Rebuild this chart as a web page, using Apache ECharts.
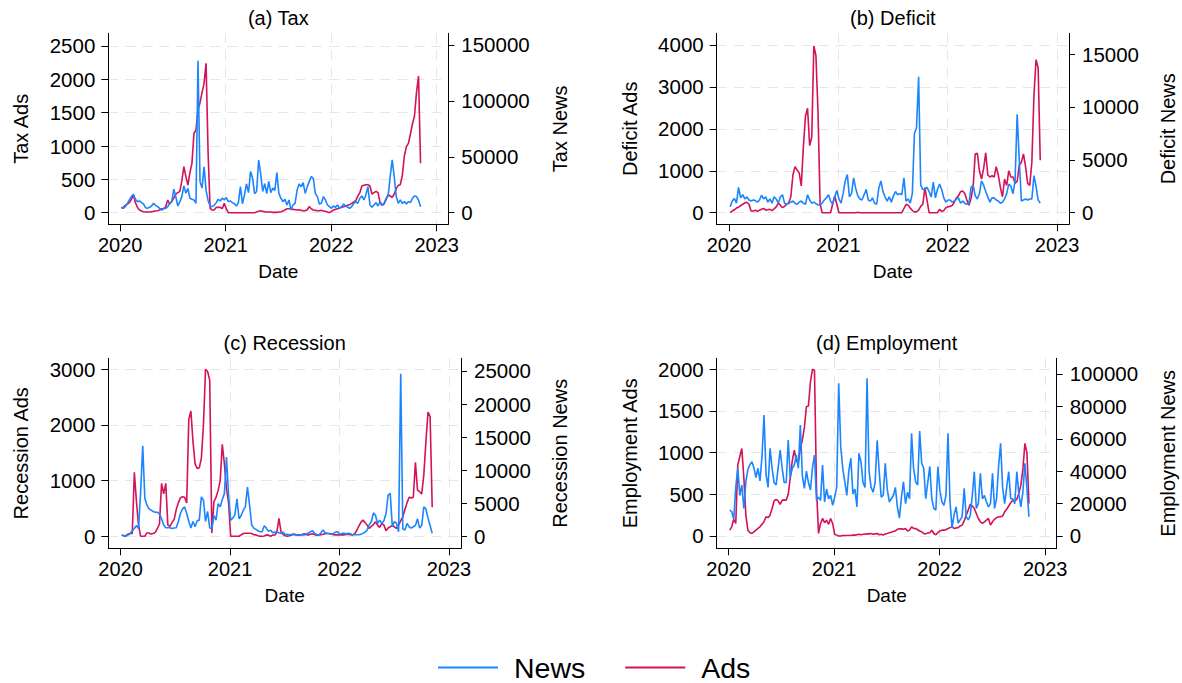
<!DOCTYPE html>
<html>
<head>
<meta charset="utf-8">
<title>News and Ads</title>
<script src="https://cdn.jsdelivr.net/npm/echarts@6/dist/echarts.min.js"></script>
<style>
  html, body { margin: 0; padding: 0; background: #fff; }
  #chart { width: 1182px; height: 683px; }
</style>
</head>
<body>
<div id="chart"></div>
<script>
// weekly observations, first week and count
const firstWeek = '2020-01-05'
const weekCount = 149
const yearTicks = [2020, 2021, 2022, 2023]

// (a) Tax
const taxAds = [65, 80, 110, 130, 150, 200, 265, 150, 80, 40,
  25, 15, 10, 10, 10, 15, 20, 25, 30, 40,
  60, 60, 90, 190, 130, 170, 220, 280, 300, 320,
  480, 690, 540, 415, 600, 740, 1190, 1240, 1540, 1650,
  1800, 1940, 2240, 900, 65, 40, 40, 80, 80, 80,
  60, 140, 60, 0, 0, 0, 0, 0, 0, 0,
  0, 0, 0, 0, 0, 0, 0, 10, 20, 30,
  20, 15, 10, 10, 10, 5, 5, 5, 10, 15,
  25, 40, 60, 60, 55, 50, 45, 40, 45, 35,
  30, 30, 45, 90, 60, 40, 35, 30, 30, 35,
  25, 20, 10, 0, 20, 40, 50, 60, 70, 80,
  90, 100, 110, 120, 140, 160, 180, 250, 300, 400,
  410, 420, 420, 400, 280, 300, 320, 300, 150, 110,
  130, 200, 270, 250, 230, 280, 360, 410, 420, 560,
  850, 990, 1040, 1180, 1330, 1450, 1800, 2050, 740]
const taxNews = [4800, 3900, 5400, 8400, 11400, 14400, 16400, 12000, 9900, 10500,
  9000, 7800, 4500, 3900, 4800, 6000, 8400, 6600, 5400, 3900,
  2400, 3900, 3900, 5400, 8400, 9900, 21000, 14400, 6000, 9900,
  14400, 24000, 17400, 21800, 12900, 12000, 11400, 8400, 136000, 27800,
  22000, 41000, 20000, 11000, 6000, 5400, 6600, 9000, 12000, 10500,
  13000, 11500, 13500, 10000, 10500, 9000, 8000, 6000, 9000, 23300,
  8000, 16000, 25700, 18000, 36800, 31000, 17000, 19000, 47200, 35000,
  19000, 26000, 17000, 28000, 18000, 22000, 20000, 35900, 17300, 12900,
  9900, 12000, 6900, 11400, 2400, 6900, 8400, 20300, 25700, 23300,
  26900, 17300, 23300, 27800, 32300, 30800, 17300, 14400, 7800, 8400,
  14400, 11400, 6900, 5400, 3900, 6000, 4800, 6900, 3900, 5400,
  7800, 6000, 4800, 3900, 5400, 8400, 9900, 8400, 12900, 15000,
  11400, 15800, 23300, 6900, 4800, 6900, 9000, 6000, 9900, 6900,
  8400, 12900, 15000, 32300, 47200, 32300, 14400, 8400, 11400, 8400,
  9900, 7800, 9900, 9000, 12900, 15000, 14400, 11400, 5400]

// (b) Deficit
const deficitAds = [0, 40, 70, 110, 130, 170, 200, 230, 250, 200,
  40, 40, 60, 30, 60, 80, 100, 60, 70, 80,
  50, 90, 140, 230, 180, 120, 150, 200, 230, 380,
  900, 1100, 1020, 950, 640, 1570, 2300, 2490, 1600, 1800,
  3975, 3750, 2400, 200, 0, 0, 0, 0, 0, 200,
  400, 200, 0, 0, 0, 0, 0, 0, 0, 0,
  0, 10, 0, 0, 0, 0, 0, 0, 0, 0,
  0, 0, 0, 0, 0, 0, 0, 0, 0, 0,
  0, 0, 0, 100, 200, 180, 110, 50, 20, 20,
  60, 150, 200, 600, 300, 0, 0, 0, 0, 0,
  80, 30, 50, 120, 140, 150, 170, 250, 350, 400,
  500, 520, 460, 300, 180, 340, 620, 1400, 1420, 1000,
  800, 1050, 1430, 900, 850, 880, 850, 1100, 900, 600,
  380, 800, 650, 1000, 850, 850, 700, 750, 1140, 1200,
  1400, 1100, 700, 650, 1200, 2800, 3650, 3450, 1250]
const deficitNews = [570, 1100, 1350, 900, 2400, 1400, 1700, 1300, 1500, 1200,
  1100, 1200, 1150, 1000, 1200, 1650, 1300, 1500, 1000, 1300,
  900, 1500, 1300, 900, 1500, 1700, 900, 800, 900, 1000,
  1100, 900, 800, 1000, 1100, 900, 800, 1700, 1200, 900,
  1000, 850, 750, 700, 900, 1200, 1400, 1700, 1100, 800,
  1500, 2100, 1300, 900, 1800, 3000, 3600, 1500, 1800, 3300,
  2300, 1600, 1300, 1200, 1700, 2200, 1200, 1100, 1400, 900,
  800, 2300, 3000, 2000, 1500, 1100, 1500, 1000, 1600, 2000,
  1700, 1800, 1700, 3300, 1100, 1300, 900, 1800, 7500, 8000,
  12850, 2600, 2200, 2200, 2400, 2000, 1500, 2900, 1400, 2200,
  2700, 2200, 1400, 1000, 1200, 1200, 1000, 1100, 1300, 1400,
  900, 1100, 900, 800, 900, 2400, 2600, 1600, 1300, 1800,
  3000, 2600, 2000, 1500, 1000, 1400, 1400, 1200, 1100, 900,
  1000, 1300, 1800, 2700, 2500, 1800, 3000, 9300, 5000, 1100,
  1200, 1300, 1200, 1300, 1300, 3500, 2500, 1200, 900]

// (c) Recession
const recessionAds = [25, 10, 0, 40, 50, 50, 1150, 620, 200, 0,
  0, 0, 60, 60, 40, 50, 70, 140, 220, 950,
  760, 950, 200, 180, 250, 300, 480, 600, 690, 710,
  700, 600, 2100, 2250, 1700, 1300, 1220, 1230, 1400, 2000,
  3000, 2960, 2800, 60, 620, 700, 820, 1000, 1650, 1300,
  860, 600, 0, 0, 0, 0, 0, 25, 50, 55,
  55, 55, 50, 30, 25, 10, 0, 0, 5, 25,
  20, 0, 20, 25, 70, 320, 80, 30, 10, 0,
  10, 20, 40, 30, 20, 25, 30, 45, 30, 25,
  35, 45, 30, 20, 25, 30, 35, 45, 50, 50,
  40, 30, 25, 25, 25, 30, 25, 35, 35, 30,
  25, 40, 100, 180, 250, 290, 250, 200, 140, 180,
  210, 260, 200, 160, 230, 200, 100, 150, 170, 190,
  170, 140, 200, 280, 350, 480, 600, 700, 690, 700,
  1330, 830, 800, 760, 1100, 1700, 2230, 2150, 520]
const recessionNews = [250, 100, 200, 250, 500, 900, 1250, 1700, 1250, 6800,
  13700, 5800, 4800, 4200, 4000, 3800, 3700, 3700, 3400, 2700,
  1750, 1350, 1350, 1350, 1250, 1300, 1350, 2300, 3500, 4200,
  4500, 3500, 2300, 1300, 2300, 1500, 2400, 2500, 6000, 5500,
  2300, 3800, 1300, 1250, 3200, 2500, 5000, 4500, 5600, 6500,
  12000, 6300, 2500, 2800, 3300, 5700, 2700, 3200, 4000, 4500,
  7500, 4800, 1800, 1300, 1100, 900, 750, 750, 1650, 1300,
  800, 1000, 600, 700, 750, 600, 500, 700, 300, 350,
  250, 350, 300, 250, 300, 250, 300, 250, 400, 550,
  750, 900, 500, 300, 250, 600, 1000, 600, 500, 450,
  350, 500, 700, 750, 350, 500, 500, 450, 500, 450,
  300, 300, 300, 300, 350, 500, 700, 1000, 1800, 2260,
  3600, 3200, 2000, 2500, 2000, 2400, 3500, 6290, 6540, 1500,
  2300, 2000, 750, 24600, 1200, 1000, 2000, 1500, 1300, 1500,
  1700, 2700, 1300, 1700, 4500, 4200, 2800, 1700, 500]

// (d) Employment
const employmentAds = [70, 110, 200, 150, 850, 950, 1050, 700, 250, 70,
  40, 30, 50, 70, 90, 110, 140, 170, 230, 220,
  250, 330, 420, 440, 420, 380, 430, 430, 430, 500,
  700, 900, 1030, 900, 880, 1050, 1150, 1300, 1550, 1560,
  1850, 2000, 1990, 570, 30, 150, 210, 160, 190, 140,
  210, 150, 20, 10, 0, 0, 5, 5, 5, 5,
  5, 10, 10, 15, 20, 15, 20, 20, 25, 25,
  30, 20, 25, 30, 15, 20, 10, 25, 30, 40,
  45, 55, 60, 80, 85, 85, 80, 90, 60, 70,
  110, 90, 90, 75, 60, 50, 30, 25, 35, 40,
  70, 30, 15, 40, 60, 70, 70, 75, 90, 100,
  110, 90, 95, 100, 120, 130, 180, 250, 310, 380,
  360, 330, 270, 210, 170, 150, 170, 190, 210, 130,
  170, 200, 220, 230, 230, 240, 290, 320, 360, 400,
  430, 420, 440, 510, 610, 800, 1110, 1000, 390]
const employmentNews = [16000, 15000, 10500, 30000, 41800, 25000, 31500, 17000, 33500, 41000,
  44000, 45900, 42000, 36000, 41800, 34000, 49000, 74700, 38000, 30000,
  54100, 41800, 33000, 31500, 42000, 53100, 41800, 33000, 33000, 59300,
  36000, 41800, 43800, 50000, 41800, 68500, 37000, 29400, 40000, 33000,
  28400, 42000, 50000, 22000, 24000, 22000, 43800, 21000, 29000, 23000,
  25000, 19000, 24000, 30000, 94300, 55000, 41800, 33500, 25000, 40000,
  48000, 26000, 29000, 18000, 51000, 46000, 33000, 30000, 97300, 40000,
  30000, 27000, 33000, 59000, 40000, 24000, 25000, 44900, 29000, 21000,
  23000, 25000, 30000, 18000, 11000, 24000, 33500, 20000, 27000, 23000,
  63400, 41800, 33500, 31500, 64800, 45000, 41800, 23000, 33000, 43000,
  23000, 17000, 16000, 42800, 28000, 21000, 19000, 25000, 63400, 21000,
  5000, 13000, 18000, 8000, 10000, 12000, 29400, 12000, 10000, 12500,
  25000, 39700, 17000, 20000, 38700, 23000, 25000, 21000, 18000, 20000,
  38700, 17000, 23000, 43000, 57200, 30000, 20000, 30000, 39700, 23000,
  23000, 20000, 39700, 26000, 18000, 27000, 44900, 29400, 11900]

// axis tick labels
const taxAdsTicks = [0, 500, 1000, 1500, 2000, 2500]
const taxNewsTicks = [0, 50000, 100000, 150000]
const deficitAdsTicks = [0, 1000, 2000, 3000, 4000]
const deficitNewsTicks = [0, 5000, 10000, 15000]
const recessionAdsTicks = [0, 1000, 2000, 3000]
const recessionNewsTicks = [0, 5000, 10000, 15000, 20000, 25000]
const employmentAdsTicks = [0, 500, 1000, 1500, 2000]
const employmentNewsTicks = [0, 20000, 40000, 60000, 80000, 100000]

const FONT = 'Liberation Sans, Arial, Helvetica, sans-serif'
const NEWS_COLOR = '#1a85ff'
const ADS_COLOR = '#d41159'
const GRID_COLOR = '#e6e6e6'

// date -> fractional year, so the x axis can be a plain value axis in years
function toYear(d) {
  const y = d.getFullYear()
  const y0 = new Date(y, 0, 1).getTime()
  const y1 = new Date(y + 1, 0, 1).getTime()
  return y + (d.getTime() - y0) / (y1 - y0)
}

// weekly dates
const weeks = []
const start = new Date(firstWeek + 'T00:00:00')
for (let i = 0; i < weekCount; i++) {
  weeks.push(toYear(new Date(start.getFullYear(), start.getMonth(), start.getDate() + 7 * i)))
}
const xMin = toYear(new Date(2019, 10, 21))
const xMax = toYear(new Date(2023, 1, 10))

// panel layout
const panels = [
  { title: '(a) Tax', ads: taxAds, news: taxNews, adsName: 'Tax Ads', newsName: 'Tax News',
    box: { left: 108.3, top: 33.3, width: 340, height: 191 },
    adsRange: [-174, 2690], adsTicks: taxAdsTicks,
    newsRange: [-10375, 160465], newsTicks: taxNewsTicks, newsGap: 102 },
  { title: '(b) Deficit', ads: deficitAds, news: deficitNews, adsName: 'Deficit Ads', newsName: 'Deficit News',
    box: { left: 716.7, top: 33.3, width: 352.3, height: 191 },
    adsRange: [-277, 4279], adsTicks: deficitAdsTicks,
    newsRange: [-1096, 16957], newsTicks: deficitNewsTicks, newsGap: 89 },
  { title: '(c) Recession', ads: recessionAds, news: recessionNews, adsName: 'Recession Ads', newsName: 'Recession News',
    box: { left: 108.3, top: 358.3, width: 352.7, height: 190 },
    adsRange: [-216, 3197], adsTicks: recessionAdsTicks,
    newsRange: [-1750, 26916], newsTicks: recessionNewsTicks, newsGap: 89 },
  { title: '(d) Employment', ads: employmentAds, news: employmentNews, adsName: 'Employment Ads', newsName: 'Employment News',
    box: { left: 716.7, top: 358.3, width: 340, height: 190 },
    adsRange: [-148, 2132], adsTicks: employmentAdsTicks,
    newsRange: [-7593, 109691], newsTicks: employmentNewsTicks, newsGap: 101 }
]

const chart = echarts.init(document.getElementById('chart'), null, { renderer: 'svg', width: 1182, height: 683 })

const blackLine = { lineStyle: { color: '#000', width: 1 } }
const tickStyle = { show: true, length: 7, lineStyle: { color: '#000', width: 1 } }
// legend key: a 60px line followed by blank room before the label
const legendKey = 'path://M0,0 L60,0 L60,2 L0,2 Z M71,0 L71,2 Z'

const option = {
  animation: false,
  backgroundColor: '#fff',
  textStyle: { fontFamily: FONT },
  legend: {
    data: ['News', 'Ads'],
    left: 438,
    top: 653,
    padding: 0,
    icon: legendKey,
    itemWidth: 71,
    itemHeight: 2,
    itemGap: 40,
    textStyle: { fontSize: 28.5, color: '#000', fontFamily: FONT }
  },
  graphic: panels.map(p => ({
    type: 'text',
    x: p.box.left + p.box.width / 2,
    y: p.box.top - 15,
    style: { text: p.title, fontSize: 20, fontFamily: FONT, fill: '#000', align: 'center', verticalAlign: 'middle' }
  })),
  grid: panels.map(p => ({ left: p.box.left, top: p.box.top, width: p.box.width, height: p.box.height })),
  xAxis: panels.map((p, k) => ({
    type: 'value',
    gridIndex: k,
    min: xMin,
    max: xMax,
    name: 'Date',
    nameLocation: 'middle',
    nameGap: 38,
    nameTextStyle: { fontSize: 19, color: '#000', fontFamily: FONT },
    axisLine: { show: true, onZero: false, ...blackLine },
    axisTick: { ...tickStyle, customValues: yearTicks },
    axisLabel: {
      customValues: yearTicks,
      formatter: v => String(Math.round(v)),
      fontSize: 20, color: '#000', margin: 11, fontFamily: FONT
    },
    splitLine: { show: true, lineStyle: { color: ['rgba(0,0,0,0)', GRID_COLOR, GRID_COLOR, GRID_COLOR], type: [10, 7], width: 1 } }
  })),
  yAxis: panels.flatMap((p, k) => [
    {
      type: 'value', gridIndex: k, position: 'left',
      min: p.adsRange[0], max: p.adsRange[1],
      name: p.adsName, nameLocation: 'middle', nameRotate: 90, nameGap: 77,
      nameTextStyle: { fontSize: 20, color: '#000', fontFamily: FONT },
      axisLine: { show: true, ...blackLine },
      axisTick: { ...tickStyle, customValues: p.adsTicks },
      axisLabel: { customValues: p.adsTicks, formatter: v => String(v), fontSize: 20.5, color: '#000', margin: 13, fontFamily: FONT },
      splitLine: { show: true, lineStyle: { color: GRID_COLOR, type: [10, 7], width: 1 } }
    },
    {
      type: 'value', gridIndex: k, position: 'right',
      min: p.newsRange[0], max: p.newsRange[1],
      name: p.newsName, nameLocation: 'middle', nameRotate: 90, nameGap: p.newsGap,
      nameTextStyle: { fontSize: 20, color: '#000', fontFamily: FONT },
      axisLine: { show: true, ...blackLine },
      axisTick: { ...tickStyle, length: 6, customValues: p.newsTicks },
      axisLabel: { customValues: p.newsTicks, formatter: v => String(v), fontSize: 20.5, color: '#000', margin: 13, fontFamily: FONT },
      splitLine: { show: false }
    }
  ]),
  series: panels.flatMap((p, k) => [
    {
      name: 'Ads', type: 'line', xAxisIndex: k, yAxisIndex: 2 * k,
      data: weeks.map((x, i) => [x, p.ads[i]]),
      showSymbol: false, color: ADS_COLOR,
      lineStyle: { width: 1.6, color: ADS_COLOR }
    },
    {
      name: 'News', type: 'line', xAxisIndex: k, yAxisIndex: 2 * k + 1,
      data: weeks.map((x, i) => [x, p.news[i]]),
      showSymbol: false, color: NEWS_COLOR,
      lineStyle: { width: 1.6, color: NEWS_COLOR }
    }
  ])
}

chart.setOption(option)
</script>
</body>
</html>
